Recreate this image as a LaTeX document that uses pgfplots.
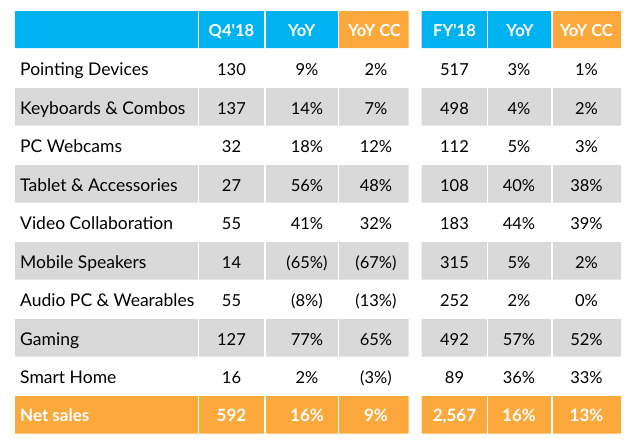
\documentclass[border=0pt]{standalone}
\usepackage{pgfplots}
\pgfplotsset{compat=1.18}
\usepackage{fontspec}
\setmainfont{Lato}
\definecolor{hblue}{RGB}{0,178,240}
\definecolor{horange}{RGB}{251,169,60}
\definecolor{rgray}{RGB}{217,217,217}
\begin{document}
\begin{tikzpicture}
\begin{axis}[
  width=634pt, height=442pt, scale only axis,
  xmin=0, xmax=634, ymin=0, ymax=442, y dir=reverse,
  hide axis, unbounded coords=jump, clip=false,
]
\addplot[draw=none, forget plot] coordinates {(0,0) (634,442)};
% header blue cells
\addplot[fill=hblue, draw=none] coordinates {
 (15,11) (338.3,11) (338.3,48) (15,48) (nan,nan)
 (421.5,11) (552,11) (552,48) (421.5,48)};
% header orange cells
\addplot[fill=horange, draw=none] coordinates {
 (338.3,11) (408.5,11) (408.5,48) (338.3,48) (nan,nan)
 (552,11) (621,11) (621,48) (552,48)};
% gray rows
\addplot[fill=rgray, draw=none] coordinates {
 (15,88) (408.5,88) (408.5,125.5) (15,125.5) (nan,nan)
 (421.5,88) (621,88) (621,125.5) (421.5,125.5) (nan,nan)
 (15,165) (408.5,165) (408.5,202.5) (15,202.5) (nan,nan)
 (421.5,165) (621,165) (621,202.5) (421.5,202.5) (nan,nan)
 (15,242) (408.5,242) (408.5,279.5) (15,279.5) (nan,nan)
 (421.5,242) (621,242) (621,279.5) (421.5,279.5) (nan,nan)
 (15,319) (408.5,319) (408.5,356.5) (15,356.5) (nan,nan)
 (421.5,319) (621,319) (621,356.5) (421.5,356.5)};
% net sales row
\addplot[fill=horange, draw=none] coordinates {
 (15,396) (408.5,396) (408.5,433.5) (15,433.5) (nan,nan)
 (421.5,396) (621,396) (621,433.5) (421.5,433.5)};
% white separators
\addplot[white, line width=1.6pt] coordinates {
 (198.3,10) (198.3,435) (nan,nan)
 (265,10) (265,435) (nan,nan)
 (338.3,10) (338.3,435) (nan,nan)
 (487.5,10) (487.5,435) (nan,nan)
 (552,10) (552,435)};
% header texts
\addplot[only marks, mark=none, point meta=explicit symbolic, nodes near coords,
  nodes near coords align={anchor=base},
  nodes near coords style={font=\bfseries\fontsize{16.5}{19}\selectfont, text=white, inner sep=0pt}]
 table[x=x, y=y, meta=t, col sep=semicolon] {
x;y;t
231.5;36.2;Q4\textquotesingle 18
301.7;36.2;YoY
374.5;36.2;YoY CC
454.5;36.2;FY\textquotesingle 18
520;36.2;YoY
586.5;36.2;YoY CC
};
% row labels
\addplot[only marks, mark=none, point meta=explicit symbolic, nodes near coords,
  nodes near coords align={anchor=base west},
  nodes near coords style={font=\fontsize{17.5}{20}\selectfont, text=black, inner sep=0pt}]
 table[x=x, y=y, meta=t, col sep=semicolon] {
x;y;t
20;75.8;Pointing Devices
20;114.3;Keyboards \& Combos
20;152.8;PC Webcams
20;191.3;Tablet \& Accessories
20;229.8;Video Collaboration
20;268.3;Mobile Speakers
20;306.8;Audio PC \& Wearables
20;345.3;Gaming
20;383.8;Smart Home
};
% body numbers
\addplot[only marks, mark=none, point meta=explicit symbolic, nodes near coords,
  nodes near coords align={anchor=base},
  nodes near coords style={font=\fontsize{16.5}{19}\selectfont, text=black, inner sep=0pt}]
 table[x=x, y=y, meta=t, col sep=semicolon] {
x;y;t
231.5;75.8;130
307;75.8;9\%
376;75.8;2\%
454.5;75.8;517
519;75.8;3\%
586.5;75.8;1\%
231.5;114.3;137
307;114.3;14\%
376;114.3;7\%
454.5;114.3;498
519;114.3;4\%
586.5;114.3;2\%
231.5;152.8;32
307;152.8;18\%
376;152.8;12\%
454.5;152.8;112
519;152.8;5\%
586.5;152.8;3\%
231.5;191.3;27
307;191.3;56\%
376;191.3;48\%
454.5;191.3;108
519;191.3;40\%
586.5;191.3;38\%
231.5;229.8;55
307;229.8;41\%
376;229.8;32\%
454.5;229.8;183
519;229.8;44\%
586.5;229.8;39\%
231.5;268.3;14
307;268.3;(65\%)
376;268.3;(67\%)
454.5;268.3;315
519;268.3;5\%
586.5;268.3;2\%
231.5;306.8;55
307;306.8;(8\%)
376;306.8;(13\%)
454.5;306.8;252
519;306.8;2\%
586.5;306.8;0\%
231.5;345.3;127
307;345.3;77\%
376;345.3;65\%
454.5;345.3;492
519;345.3;57\%
586.5;345.3;52\%
231.5;383.8;16
307;383.8;2\%
376;383.8;(3\%)
454.5;383.8;89
519;383.8;36\%
586.5;383.8;33\%
};
% net sales row texts
\addplot[only marks, mark=none, point meta=explicit symbolic, nodes near coords,
  nodes near coords align={anchor=base},
  nodes near coords style={font=\bfseries\fontsize{17}{20}\selectfont, text=white, inner sep=0pt}]
 table[x=x, y=y, meta=t, col sep=semicolon] {
x;y;t
231.5;421.5;592
307;421.5;16\%
376;421.5;9\%
454.5;421.5;2,567
519;421.5;16\%
586.5;421.5;13\%
};
\addplot[only marks, mark=none, point meta=explicit symbolic, nodes near coords,
  nodes near coords align={anchor=base west},
  nodes near coords style={font=\bfseries\fontsize{17}{20}\selectfont, text=white, inner sep=0pt}]
 table[x=x, y=y, meta=t, col sep=semicolon] {
x;y;t
20;421.5;Net sales
};
\end{axis}
\end{tikzpicture}
\end{document}
